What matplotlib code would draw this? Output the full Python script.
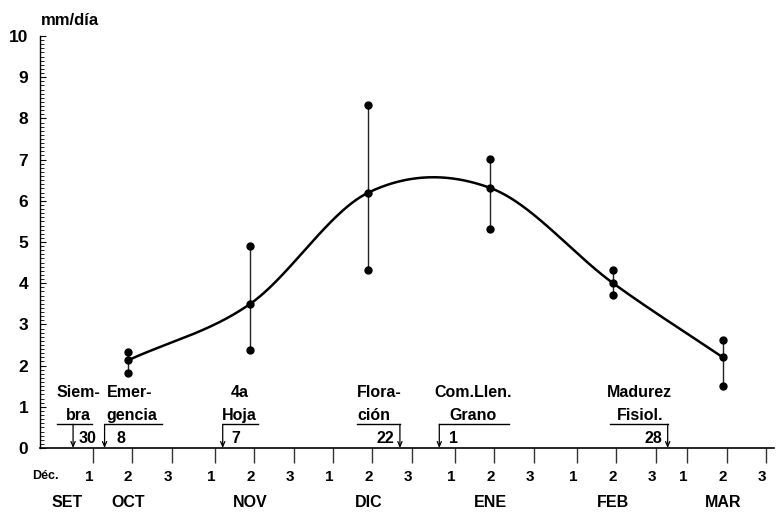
import numpy as np
import matplotlib.pyplot as plt
from matplotlib.ticker import FixedLocator, FixedFormatter, MultipleLocator

# Evapotranspiración (mm/día) medida en la 2a década de cada mes
meses = ['OCT', 'NOV', 'DIC', 'ENE', 'FEB', 'MAR']
dias_mes = [31, 30, 31, 31, 28, 31]
dia_medicion = 14
et_max = [2.33, 4.90, 8.33, 7.02, 4.33, 2.63]
et_med = [2.13, 3.50, 6.20, 6.31, 4.01, 2.20]
et_min = [1.83, 2.39, 4.32, 5.31, 3.71, 1.50]

# Etapas fenológicas del cultivo (mes y día)
etapas = ['Siem-\nbra', 'Emer-\ngencia', '4a\nHoja', 'Flora-\nción',
          'Com.Llen.\nGrano', 'Madurez\nFisiol.']
etapa_mes = ['SET', 'OCT', 'NOV', 'DIC', 'ENE', 'FEB']
etapa_dia = [30, 8, 7, 22, 1, 28]

# día 0 = 30 de setiembre
inicio = dict(zip(meses, np.concatenate([[0], np.cumsum(dias_mes[:-1])])))
inicio['SET'] = -30

x_med = np.array([inicio[m] + dia_medicion for m in meses], dtype=float)
limites = [inicio[m] + d for m in meses for d in (5, 15, 25)]
centros = [inicio[m] + d for m in meses for d in (4, 14, 24)]
x_etapa = [inicio[m] + d for m, d in zip(etapa_mes, etapa_dia)]


def curva_suave(x, y, xs):
    # Hermite cúbica con pendientes centradas (Catmull-Rom)
    x = np.asarray(x, float)
    y = np.asarray(y, float)
    n = len(x)
    m = np.empty(n)
    m[1:-1] = (y[2:] - y[:-2]) / (x[2:] - x[:-2])
    m[0] = (y[1] - y[0]) / (x[1] - x[0])
    m[-1] = (y[-1] - y[-2]) / (x[-1] - x[-2])
    k = np.clip(np.searchsorted(x, xs) - 1, 0, n - 2)
    h = x[k + 1] - x[k]
    t = (xs - x[k]) / h
    h00 = 2 * t ** 3 - 3 * t ** 2 + 1
    h10 = t ** 3 - 2 * t ** 2 + t
    h01 = -2 * t ** 3 + 3 * t ** 2
    h11 = t ** 3 - t ** 2
    return h00 * y[k] + h10 * h * m[k] + h01 * y[k + 1] + h11 * h * m[k + 1]


plt.rcParams['font.family'] = ['Liberation Sans', 'DejaVu Sans']
plt.rcParams['font.weight'] = 'bold'

fig = plt.figure(figsize=(7.76, 5.12), dpi=100)
ax = fig.add_axes([40 / 776, 64 / 512, 734 / 776, 412 / 512])

# curva por los valores medios
xs = np.linspace(x_med[0], x_med[-1], 400)
ax.plot(xs, curva_suave(x_med, et_med, xs), color='black', lw=1.8, zorder=3)

# rango de valores en cada mes
ax.vlines(x_med, et_min, et_max, color='#222222', lw=1.0, zorder=2)
for serie in (et_min, et_med, et_max):
    ax.plot(x_med, serie, 'o', color='black', ms=5, zorder=4)

# etapas: texto, línea horizontal, flecha y día
capas = [  # (izq, der, x texto, alineación texto, x día, alineación día)
    (-4.1, 4.8, 1.3, 'center', 1.3, 'left'),
    (0.0, 14.7, 0.5, 'left', 3.0, 'left'),
    (0.0, 8.9, 4.3, 'center', 2.3, 'left'),
    (-10.9, 0.0, -10.9, 'left', -1.5, 'right'),
    (0.0, 17.8, 8.6, 'center', 2.5, 'left'),
    (-14.7, 0.0, -7.1, 'center', -1.5, 'right'),
]
for nombre, x0, dia, (izq, der, xt, hat, xd, had) in zip(etapas, x_etapa, etapa_dia, capas):
    l1, l2 = nombre.split('\n')
    ax.text(x0 + xt, 1.24, l1, ha=hat, va='baseline', fontsize=11.5)
    ax.text(x0 + xt, 0.67, l2, ha=hat, va='baseline', fontsize=11.5)
    ax.plot([x0 + izq, x0 + der], [0.575, 0.575], color='black', lw=1.0)
    ax.annotate('', xy=(x0, 0), xytext=(x0, 0.575),
                arrowprops=dict(arrowstyle='->,head_length=0.35,head_width=0.15',
                                color='black', lw=0.9, shrinkA=0, shrinkB=0))
    ax.text(x0 + xd, 0.12, str(dia), ha=had, va='baseline', fontsize=11.5)

ax.set_xlim(-8.4, 178)
ax.set_ylim(0, 10)

ax.spines['top'].set_visible(False)
ax.spines['right'].set_visible(False)
ax.spines['left'].set_linewidth(1.0)
ax.spines['bottom'].set_linewidth(1.2)

ax.set_yticks(range(0, 11))
ax.yaxis.set_minor_locator(MultipleLocator(0.1))
ax.tick_params(axis='y', which='major', direction='in', length=4.5, width=0.8,
               labelsize=12.5, pad=8.5)
ax.tick_params(axis='y', which='minor', direction='in', length=3.2, width=0.6)
for lab in ax.get_yticklabels():
    lab.set_fontweight('bold')

# marcas de décadas (mayores) y sus números (menores, sin trazo)
ax.xaxis.set_major_locator(FixedLocator(limites))
ax.xaxis.set_major_formatter(FixedFormatter([''] * len(limites)))
ax.xaxis.set_minor_locator(FixedLocator(centros))
ax.xaxis.set_minor_formatter(FixedFormatter(['1', '2', '3'] * len(meses)))
ax.tick_params(axis='x', which='major', direction='out', length=10.8, width=1.0,
               color='#333333')
ax.tick_params(axis='x', which='minor', length=0, labelsize=11, pad=15.5)
for lab in ax.xaxis.get_minorticklabels():
    lab.set_fontweight('bold')

ax.text(-7.1, -0.75, 'Déc.', ha='center', va='baseline', fontsize=9, clip_on=False)
ax.text(-1.5, -1.43, 'SET', ha='center', va='baseline', fontsize=11.5, clip_on=False)
for m, x in zip(meses, x_med):
    ax.text(x, -1.43, m, ha='center', va='baseline', fontsize=11.5, clip_on=False)

fig.text(41 / 776, 1 - 25 / 512, 'mm/día', ha='left', va='baseline', fontsize=12)

fig.savefig('out.png', dpi=100)
